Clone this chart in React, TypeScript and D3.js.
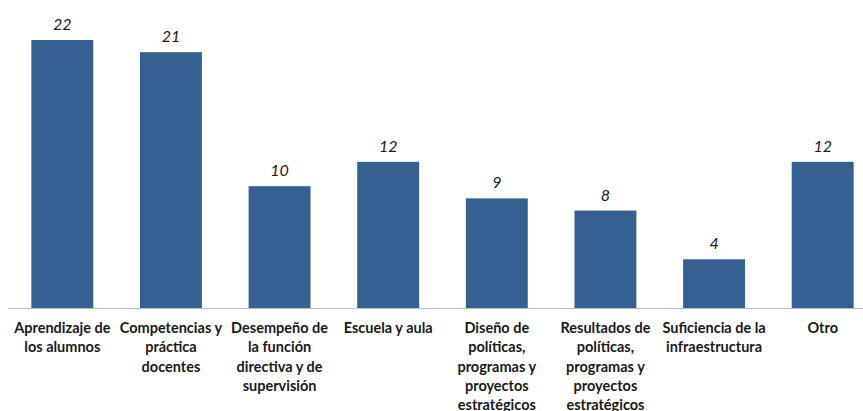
import React from "react";
import * as d3 from "d3";

const categories: string[] = [
  "Aprendizaje de\nlos alumnos",
  "Competencias y\npráctica\ndocentes",
  "Desempeño de\nla función\ndirectiva y de\nsupervisión",
  "Escuela y aula",
  "Diseño de\npolíticas,\nprogramas y\nproyectos\nestratégicos",
  "Resultados de\npolíticas,\nprogramas y\nproyectos\nestratégicos",
  "Suficiencia de la\ninfraestructura",
  "Otro",
];
const values: number[] = [22, 21, 10, 12, 9, 8, 4, 12];

const W = 863;
const H = 411;
const FONT = "Lato, 'Open Sans', sans-serif";

export default function App() {
  const x = d3
    .scaleBand<number>()
    .domain(d3.range(categories.length))
    .range([8, 877])
    .paddingInner(0.43)
    .paddingOuter(0.215);
  const baseline = 308;
  const y = d3.scaleLinear().domain([0, 22]).range([baseline, 40]);

  return (
    <svg
      width={W}
      height={H}
      style={{ position: "absolute", left: 0, top: 0, background: "#fff" }}
    >
      {values.map((v, i) => (
        <g key={i}>
          <rect
            x={x(i)}
            y={y(v)}
            width={x.bandwidth()}
            height={baseline - y(v)}
            fill="#376092"
          />
          <text
            x={(x(i) as number) + x.bandwidth() / 2}
            y={y(v) - 10}
            textAnchor="middle"
            fontFamily={FONT}
            fontStyle="italic"
            fontSize={16}
            fill="#1a1a1a"
          >
            {v}
          </text>
        </g>
      ))}
      <line x1={8} x2={W} y1={baseline + 0.5} y2={baseline + 0.5} stroke="#bfbfbf" strokeWidth={1} />
      {categories.map((c, i) => (
        <text
          key={i}
          textAnchor="middle"
          fontFamily={FONT}
          fontWeight="bold"
          fontSize={14.5}
          fill="#1a1a1a"
        >
          {c.split("\n").map((line, j) => (
            <tspan key={j} x={(x(i) as number) + x.bandwidth() / 2} y={333 + j * 19.3}>
              {line}
            </tspan>
          ))}
        </text>
      ))}
    </svg>
  );
}
